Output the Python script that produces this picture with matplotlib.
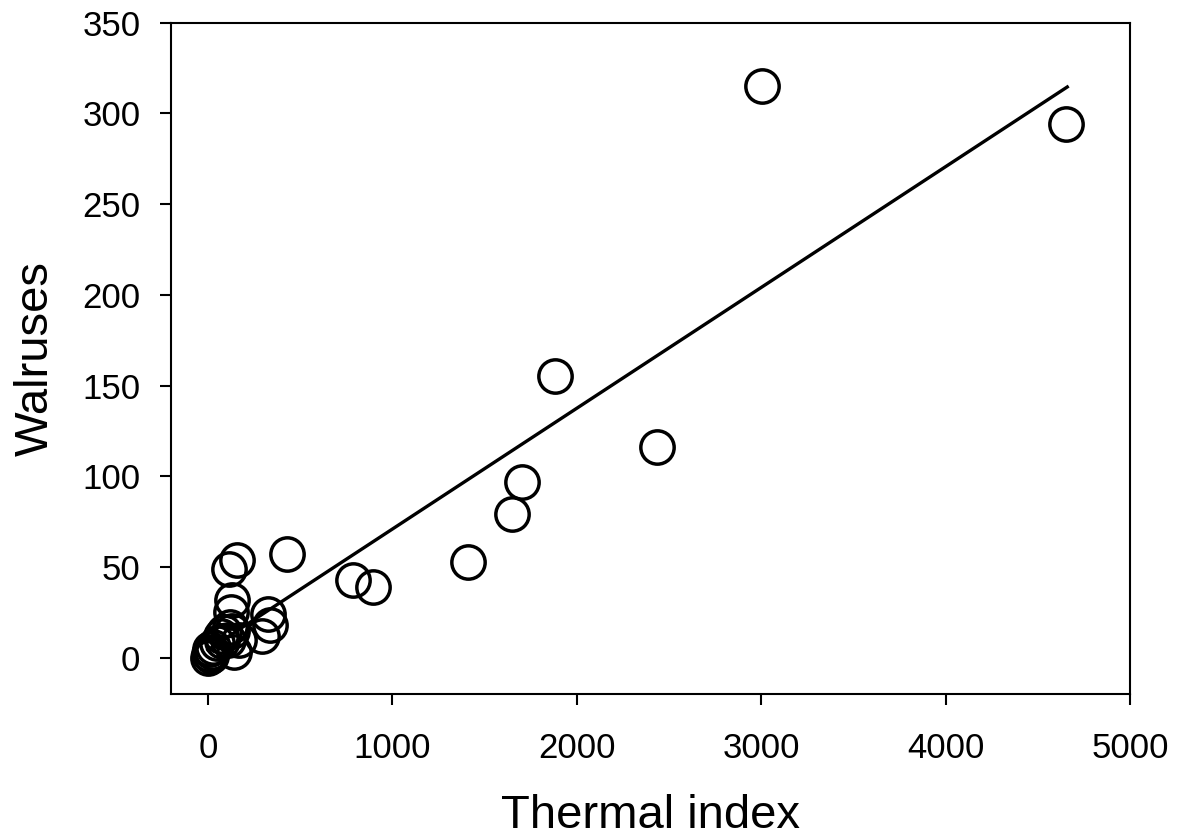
import matplotlib
matplotlib.use("Agg")
import matplotlib.pyplot as plt

plt.rcParams['font.family'] = ['Liberation Sans', 'DejaVu Sans']

thermal = [0, 5, 10, 15, 20, 30, 50, 70, 76, 90, 110, 119, 130, 140, 170,
           125, 130, 114, 157, 292, 325, 336, 428, 785, 894, 1408, 1647, 1701,
           1885, 2438, 3006, 4654]
walruses = [0, 2, 5, 1, 3, 6, 8, 12, 9, 14, 10, 17, 15, 3, 10,
            25, 32, 49, 54, 12, 24, 18, 57, 43, 39, 53, 79, 97,
            155, 116, 315, 294]

fit_x = [0, 4660]
fit_y = [4.3, 314.5]

fig = plt.figure(figsize=(11.8, 8.38), dpi=100)
ax = fig.add_axes([0.1449, 0.1718, 0.9576 - 0.1449, 0.9731 - 0.1718])

ax.plot(fit_x, fit_y, color='black', lw=2.4, zorder=2)
ax.plot(thermal, walruses, linestyle='none', marker='o', markersize=24,
        markerfacecolor='none', markeredgecolor='black', markeredgewidth=2.5, zorder=3)

ax.set_xlim(-200, 5000)
ax.set_ylim(-20, 350)
ax.set_xticks([0, 1000, 2000, 3000, 4000, 5000])
ax.set_yticks([0, 50, 100, 150, 200, 250, 300, 350])

for s in ax.spines.values():
    s.set_linewidth(1.5)
ax.tick_params(axis='both', direction='out', length=8, width=1.5, labelsize=25)
ax.tick_params(axis='x', pad=19)
ax.tick_params(axis='y', pad=14)

ax.set_xlabel('Thermal index', fontsize=34, labelpad=21)
ax.set_ylabel('Walruses', fontsize=34, labelpad=18)

fig.savefig('out.png', dpi=100)
